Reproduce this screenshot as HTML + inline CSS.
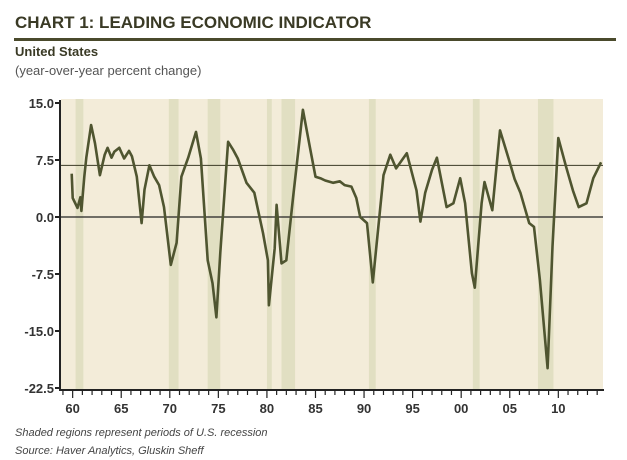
<!DOCTYPE html>
<html><head><meta charset="utf-8"><style>
body{margin:0;background:#fff;font-family:"Liberation Sans",sans-serif;}
#wrap{position:relative;width:627px;height:460px;overflow:hidden;}
</style></head><body>
<div id="wrap">
<svg id="chart" width="627" height="460" xmlns="http://www.w3.org/2000/svg">
<text x="15" y="28" font-size="17" font-weight="bold" fill="#3a3a25">CHART 1: LEADING ECONOMIC INDICATOR</text>
<rect x="14" y="38" width="602" height="3" fill="#4a4a2c"/>
<text x="15" y="56" font-size="13" font-weight="bold" fill="#3a3a25">United States</text>
<text x="15" y="75" font-size="13" fill="#555">(year-over-year percent change)</text>
<g id="plot"></g>
<text x="15" y="436" font-size="11" font-style="italic" fill="#444">Shaded regions represent periods of U.S. recession</text>
<text x="15" y="454" font-size="11" font-style="italic" fill="#444">Source: Haver Analytics, Gluskin Sheff</text>
</svg>
</div>
<script>
const years=[1959.9,1960.0,1960.5,1960.8,1960.9,1961.2,1961.4,1961.9,1962.3,1962.8,1963.3,1963.6,1964.0,1964.3,1964.8,1965.3,1965.8,1966.1,1966.6,1967.1,1967.4,1967.9,1968.4,1968.9,1969.4,1970.1,1970.7,1971.2,1971.9,1972.7,1973.2,1973.9,1974.4,1974.8,1975.2,1976.0,1976.5,1977.0,1977.9,1978.7,1979.6,1980.1,1980.2,1980.8,1981.0,1981.5,1982.0,1982.7,1983.7,1984.4,1985.0,1985.5,1986.0,1986.8,1987.5,1988.0,1988.7,1989.2,1989.6,1990.3,1990.9,1992.0,1992.7,1993.3,1994.4,1995.4,1995.8,1996.3,1997.0,1997.5,1998.5,1999.2,1999.9,2000.4,2001.1,2001.4,2002.1,2002.4,2003.2,2004.0,2004.9,2005.5,2006.1,2007.0,2007.5,2008.1,2008.9,2009.4,2010.0,2010.8,2011.5,2012.1,2012.9,2013.6,2014.4];
const values=[5.7,2.5,1.2,2.6,0.8,5.3,7.8,12.1,9.7,5.5,8.2,9.1,7.8,8.6,9.1,7.7,8.7,8.0,5.3,-0.8,3.6,6.8,5.3,4.2,1.3,-6.3,-3.4,5.3,7.8,11.2,7.7,-5.7,-8.7,-13.2,-4.7,9.9,8.9,7.7,4.5,3.2,-2.1,-5.7,-11.6,-4.1,1.6,-6.1,-5.7,2.6,14.1,9.3,5.3,5.1,4.8,4.5,4.7,4.2,4.0,2.5,0,-0.8,-8.6,5.5,8.2,6.4,8.4,3.5,-0.6,3.2,6.2,7.8,1.3,1.8,5.1,1.8,-7.4,-9.3,1.8,4.6,0.9,11.4,7.6,5.0,3.2,-0.8,-1.3,-8.3,-19.9,-3.9,10.4,6.6,3.5,1.3,1.8,5.1,7.2];
const recStart=[1960.3,1969.9,1973.9,1980.0,1981.5,1990.5,2001.2,2007.9];
const recEnd=[1961.1,1970.9,1975.2,1980.5,1982.9,1991.2,2001.9,2009.5];
const yTicks=[15.0,7.5,0.0,-7.5,-15.0,-22.5];
const xTickYears=[1960,1965,1970,1975,1980,1985,1990,1995,2000,2005,2010];
const xTickLabels=["60","65","70","75","80","85","90","95","00","05","10"];
const refLevel=6.8;

const X0=1958.8,X1=2014.6,PX0=61,PX1=603,YT=15,YB=-22.5,PY0=103,PY1=388;
const sx=v=>PX0+(v-X0)/(X1-X0)*(PX1-PX0);
const sy=v=>PY0+(YT-v)/(YT-YB)*(PY1-PY0);
const NS="http://www.w3.org/2000/svg";
const g=document.getElementById('plot');
function mk(t,a){const e=document.createElementNS(NS,t);for(const k in a)e.setAttribute(k,a[k]);g.appendChild(e);return e;}
let e=mk('rect',{x:PX0,y:99,width:PX1-PX0,height:390-99,fill:'#f3ecd9'});


for(let i=0;i<recStart.length;i++){
 e=mk('rect',{x:sx(recStart[i]),y:99,width:sx(recEnd[i])-sx(recStart[i]),height:291,fill:'#e1dfc2'});
 
 
}
e=mk('line',{x1:PX0,x2:PX1,y1:sy(0),y2:sy(0),stroke:'#222',"stroke-width":1.2});


e=mk('line',{x1:PX0,x2:PX1,y1:sy(refLevel),y2:sy(refLevel),stroke:'#3a3a25',"stroke-width":1});


e=mk('polyline',{points:years.map((y,i)=>sx(y).toFixed(1)+','+sy(values[i]).toFixed(1)).join(' '),fill:'none',stroke:'#4f5530',"stroke-width":2.6,"stroke-linejoin":"round"});


e=mk('line',{x1:PX0-1,x2:PX0-1,y1:100,y2:391,stroke:'#222',"stroke-width":2});


e=mk('line',{x1:PX0-2,x2:PX1+1,y1:390,y2:390,stroke:'#222',"stroke-width":2});


yTicks.forEach(v=>{
 e=mk('line',{x1:PX0-6,x2:PX0-1,y1:sy(v),y2:sy(v),stroke:'#222',"stroke-width":2});
 
 
 e=mk('text',{x:PX0-7,y:sy(v)+5,"text-anchor":"end","font-size":13,"font-weight":"bold",fill:'#333'});
 e.textContent=v.toFixed(1);
 
 
});
for(let y=1959;y<=2014;y++){
 const major=xTickYears.includes(y);
 e=mk('line',{x1:sx(y),x2:sx(y),y1:390,y2:major?398:395,stroke:'#222',"stroke-width":1.2});
 
 
}
xTickYears.forEach((y,i)=>{
 e=mk('text',{x:sx(y),y:413,"text-anchor":"middle","font-size":13,"font-weight":"bold",fill:'#333'});
 e.textContent=xTickLabels[i];
 
 
});
</script>
</body></html>
